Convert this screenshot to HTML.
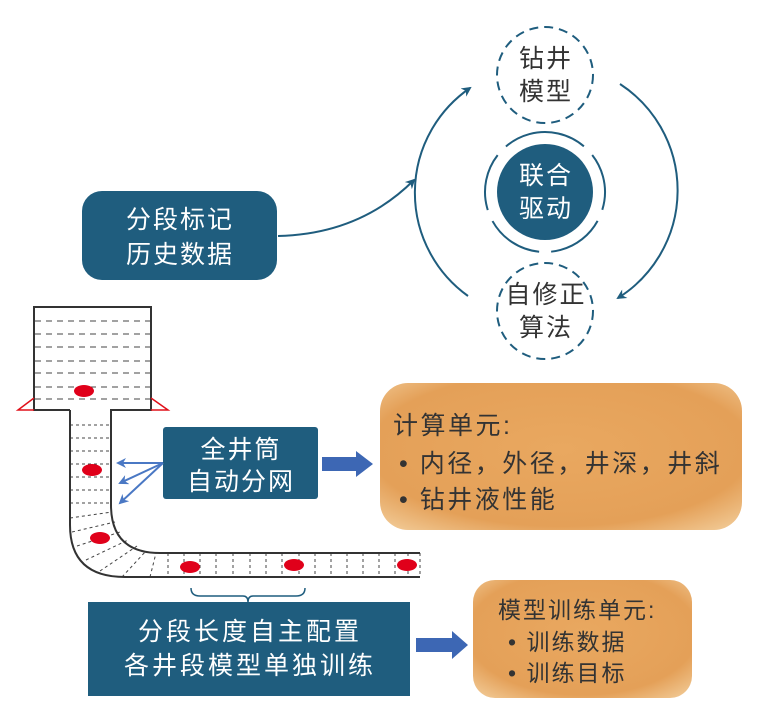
<!DOCTYPE html>
<html><head><meta charset="utf-8"><style>
html,body{margin:0;padding:0;background:#fff;}
svg text{font-family:"Liberation Sans","Noto Sans CJK SC",sans-serif;}
</style></head><body>
<svg width="767" height="716" viewBox="0 0 767 716" xmlns="http://www.w3.org/2000/svg">
<defs>
<marker id="ah" markerWidth="10" markerHeight="10" refX="8" refY="5" orient="auto" markerUnits="userSpaceOnUse"><path d="M0,0 L10,5 L0,10 L3,5 Z" fill="#1f5d7e"/></marker>
<marker id="ab" markerWidth="10" markerHeight="10" refX="8" refY="5" orient="auto" markerUnits="userSpaceOnUse"><path d="M0,0 L10,5 L0,10 L3,5 Z" fill="#4a78c4"/></marker>
<radialGradient id="og" cx="50%" cy="45%" r="70%">
<stop offset="0" stop-color="#e9a860"/><stop offset="0.75" stop-color="#e4a058"/><stop offset="1" stop-color="#f0c690"/></radialGradient>
</defs>

<path d="M468,296 A127,127 0 0 1 470,88" fill="none" stroke="#1f5d7e" stroke-width="2" marker-end="url(#ah)"/>
<path d="M620,84 A127,127 0 0 1 618,298" fill="none" stroke="#1f5d7e" stroke-width="2" marker-end="url(#ah)"/>
<circle cx="545" cy="75" r="48" fill="none" stroke="#1f5d7e" stroke-width="2" stroke-dasharray="9,6"/>
<circle cx="545" cy="311" r="48" fill="none" stroke="#1f5d7e" stroke-width="2" stroke-dasharray="9,6"/>
<circle cx="545" cy="192" r="60" fill="none" stroke="#1f5d7e" stroke-width="2" stroke-dasharray="58,12" transform="rotate(-105 545 192)"/>
<circle cx="545" cy="192" r="48" fill="#1f5d7e"/>
<g font-size="25" text-anchor="middle" letter-spacing="2">
<text x="546" y="67" fill="#333">钻井</text>
<text x="546" y="100" fill="#333">模型</text>
<text x="546" y="184" fill="#fff">联合</text>
<text x="546" y="217" fill="#fff">驱动</text>
<text x="546" y="303" fill="#333">自修正</text>
<text x="546" y="336" fill="#333">算法</text>
</g>

<rect x="82" y="191" width="195" height="89" rx="20" fill="#1f5d7e"/>
<text x="180" y="228" font-size="25" fill="#fff" text-anchor="middle" letter-spacing="2">分段标记</text>
<text x="180" y="263" font-size="25" fill="#fff" text-anchor="middle" letter-spacing="2">历史数据</text>
<path d="M278,236 Q360,234 414,180" fill="none" stroke="#1f5d7e" stroke-width="2" marker-end="url(#ah)"/>

<g stroke="#444" stroke-width="1" stroke-dasharray="6,5">
<line x1="35" y1="321" x2="151" y2="321"/><line x1="35" y1="334" x2="151" y2="334"/>
<line x1="35" y1="347" x2="151" y2="347"/><line x1="35" y1="361" x2="151" y2="361"/>
<line x1="35" y1="373" x2="151" y2="373"/><line x1="35" y1="387" x2="151" y2="387"/>
<line x1="35" y1="399" x2="151" y2="399"/>
</g>
<g stroke="#444" stroke-width="1" stroke-dasharray="3,3">
<line x1="70" y1="425" x2="111" y2="425"/><line x1="70" y1="438" x2="111" y2="438"/>
<line x1="70" y1="451" x2="111" y2="451"/><line x1="70" y1="464" x2="111" y2="464"/>
<line x1="70" y1="477" x2="111" y2="477"/><line x1="70" y1="490" x2="111" y2="490"/>
<line x1="70" y1="503" x2="111" y2="503"/>
<line x1="70" y1="518" x2="112" y2="512"/><line x1="72" y1="532" x2="115" y2="522"/>
<line x1="77" y1="546" x2="120" y2="532"/><line x1="86" y1="560" x2="128" y2="540"/>
<line x1="100" y1="571" x2="137" y2="546"/><line x1="122" y1="577" x2="146" y2="551"/>
<line x1="150" y1="577" x2="156" y2="553"/>
<line x1="168" y1="553" x2="168" y2="577"/><line x1="184" y1="553" x2="184" y2="577"/>
<line x1="200" y1="553" x2="200" y2="577"/><line x1="216" y1="553" x2="216" y2="577"/>
<line x1="233" y1="553" x2="233" y2="577"/><line x1="250" y1="553" x2="250" y2="577"/>
<line x1="266" y1="553" x2="266" y2="577"/><line x1="282" y1="553" x2="282" y2="577"/>
<line x1="299" y1="553" x2="299" y2="577"/><line x1="315" y1="553" x2="315" y2="577"/>
<line x1="331" y1="553" x2="331" y2="577"/><line x1="347" y1="553" x2="347" y2="577"/>
<line x1="363" y1="553" x2="363" y2="577"/><line x1="379" y1="553" x2="379" y2="577"/>
<line x1="395" y1="553" x2="395" y2="577"/><line x1="408" y1="553" x2="408" y2="577"/>
<line x1="420" y1="553" x2="420" y2="577"/>
</g>
<path d="M70,410 L34,410 L34,307 L151,307 L151,410 L111,410 L111,505 Q111,553 160,553 L420,553" fill="none" stroke="#333" stroke-width="2"/>
<path d="M70,410 L70,525 Q70,577 125,577 L420,577" fill="none" stroke="#333" stroke-width="2"/>
<path d="M34,398 L18,410 L34,410 M151,398 L168,410 L151,410" fill="none" stroke="#e0101a" stroke-width="1.5"/>
<g fill="#e0001a">
<ellipse cx="84" cy="391" rx="10" ry="6"/><ellipse cx="92" cy="470" rx="10" ry="6"/>
<ellipse cx="100" cy="538" rx="10" ry="6"/><ellipse cx="190" cy="567" rx="10" ry="6"/>
<ellipse cx="294" cy="565" rx="10" ry="6"/><ellipse cx="407" cy="565" rx="10" ry="6"/>
</g>
<path d="M191,588 Q191,596 200,596 L243,596 Q248,596 248,602 Q248,596 253,596 L296,596 Q305,596 305,588" fill="none" stroke="#1f5d7e" stroke-width="1.5"/>

<rect x="163" y="427" width="155" height="72" rx="3" fill="#1f5d7e"/>
<text x="241" y="458" font-size="25" fill="#fff" text-anchor="middle" letter-spacing="2">全井筒</text>
<text x="241" y="490" font-size="25" fill="#fff" text-anchor="middle" letter-spacing="2">自动分网</text>
<g stroke="#4a78c4" stroke-width="2" fill="none">
<line x1="163" y1="463" x2="118" y2="463" marker-end="url(#ab)"/>
<line x1="163" y1="463" x2="120" y2="483" marker-end="url(#ab)"/>
<line x1="163" y1="463" x2="120" y2="503" marker-end="url(#ab)"/>
</g>
<path d="M322,457 L356,457 L356,451 L373,464 L356,477 L356,471 L322,471 Z" fill="#3d67b4"/>

<rect x="380" y="383" width="362" height="147" rx="28" fill="url(#og)"/>
<g font-size="25" fill="#333" letter-spacing="2.5">
<text x="393" y="434">计算单元:</text>
<text x="399" y="472">• 内径，外径，井深，井斜</text>
<text x="399" y="508">• 钻井液性能</text>
</g>

<rect x="88" y="602" width="322" height="94" fill="#1f5d7e"/>
<text x="250" y="640" font-size="25" fill="#fff" text-anchor="middle" letter-spacing="3">分段长度自主配置</text>
<text x="250" y="674" font-size="25" fill="#fff" text-anchor="middle" letter-spacing="3">各井段模型单独训练</text>
<path d="M416,638 L452,638 L452,631 L468,645 L452,659 L452,652 L416,652 Z" fill="#3d67b4"/>
<rect x="473" y="580" width="219" height="118" rx="22" fill="url(#og)"/>
<g font-size="23" fill="#333" letter-spacing="2">
<text x="498" y="618">模型训练单元:</text>
<text x="508" y="650">• 训练数据</text>
<text x="508" y="681">• 训练目标</text>
</g>
</svg>
</body></html>
